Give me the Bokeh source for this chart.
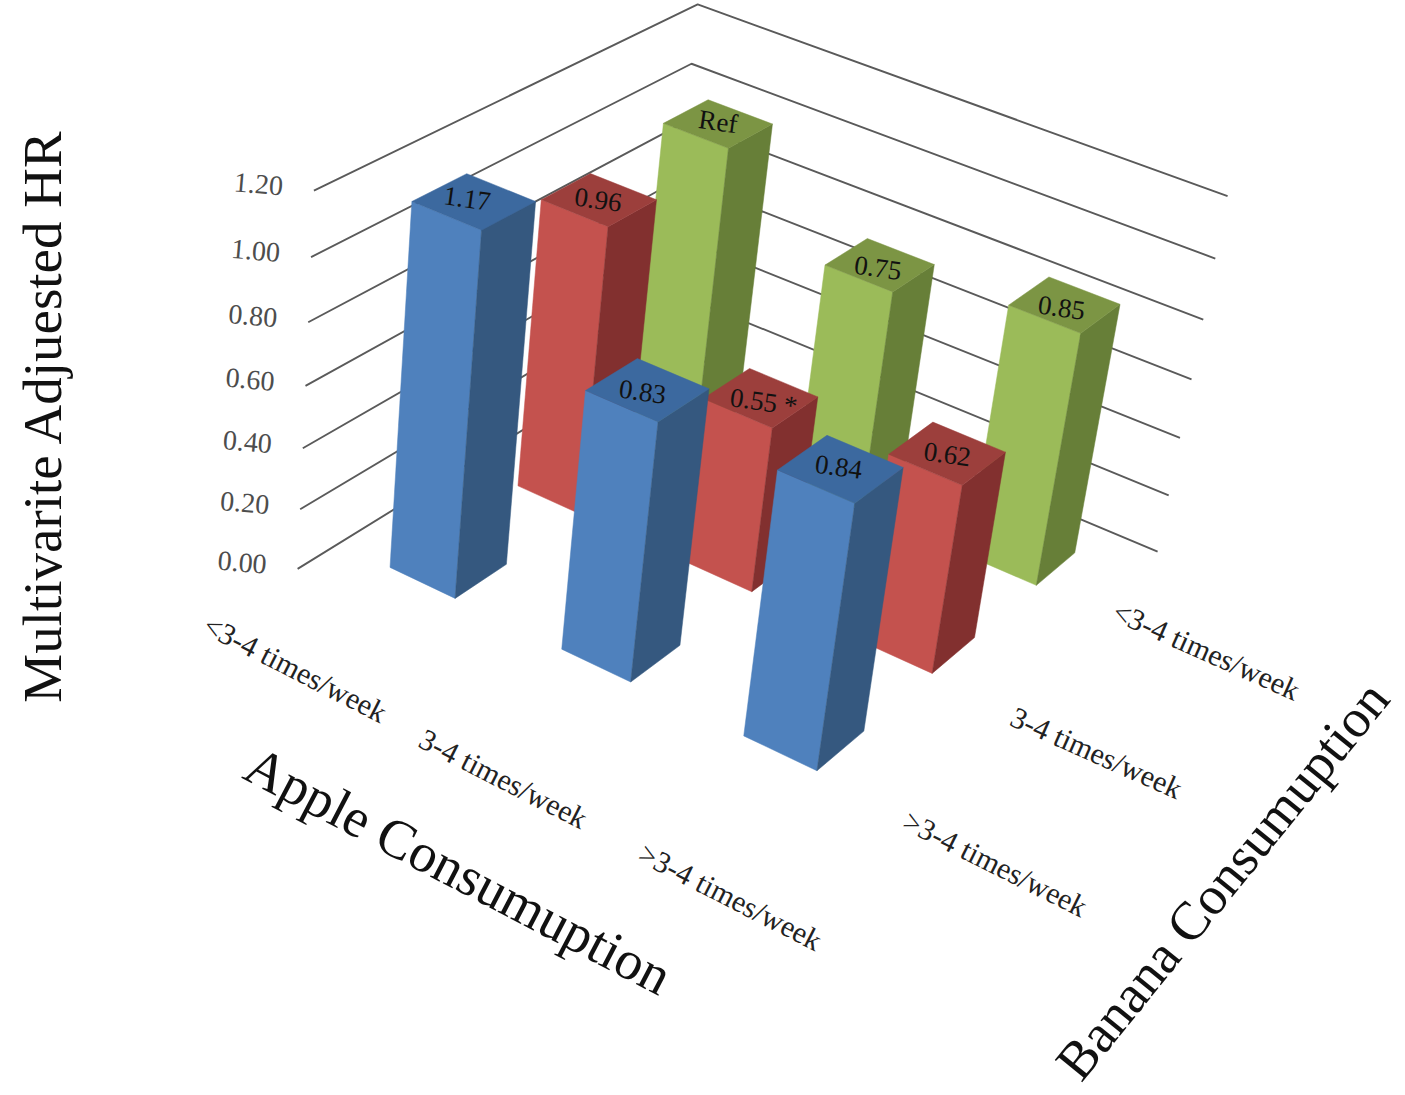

import numpy as np
from bokeh.plotting import figure
from bokeh.embed import file_html
from bokeh.resources import INLINE
from bokeh.core.properties import value

# ---- data ----
apple_categories = ["<3-4 times/week", "3-4 times/week", ">3-4 times/week"]
banana_categories = ["<3-4 times/week", "3-4 times/week", ">3-4 times/week"]
hr_banana_high = [1.17, 0.83, 0.84]   # blue, front row
hr_banana_mid = [0.96, 0.55, 0.62]    # red, middle row
hr_banana_low = [1.00, 0.75, 0.85]    # green, back row ("Ref" = 1.00)
z_ticks = [0.0, 0.2, 0.4, 0.6, 0.8, 1.0, 1.2]

# ---- view: a perspective camera, from chart space (u, v, z) to page pixels ----
CAM = [156.7828, 154.4642, -3.031596, 297.1038,
       63.82145, -57.88537, -325.3628, 568.3695,
       -0.02850562, 0.04974844, -0.05302681]
GAP_U, GAP_V = 0.3071, 0.3026

def project(points):
    w = np.asarray(points, float)
    d = CAM[8]*w[:, 0] + CAM[9]*w[:, 1] + CAM[10]*w[:, 2] + 1
    x = (CAM[0]*w[:, 0] + CAM[1]*w[:, 1] + CAM[2]*w[:, 2] + CAM[3]) / d
    y = (CAM[4]*w[:, 0] + CAM[5]*w[:, 1] + CAM[6]*w[:, 2] + CAM[7]) / d
    return x, y

p = figure(width=1405, height=1095, x_range=(0, 1405), y_range=(1095, 0),
           output_backend="svg", toolbar_location=None)
p.axis.visible = False
p.grid.visible = False
p.outline_line_color = None
p.min_border = 0
p.background_fill_color = "white"

serif = value("Liberation Serif")

# walls' gridlines
for z in z_ticks:
    x, y = project([(0, 0, z), (0, 3, z), (3, 3, z)])
    p.line(x, y, line_color="#5a5a5a", line_width=1.9)

x, y = project([(0, 0, z) for z in z_ticks])
p.text(x, y, text=[f"{z:.2f}" for z in z_ticks], text_font=serif, text_font_size="28px",
       text_color="#4d4d4d", text_align="right", text_baseline="middle",
       x_offset=-31, y_offset=-4, angle=-5, angle_units="deg")

# bars, painted back to front
series = [
    (hr_banana_high, 0, ("#4F81BD", "#35587F", "#3C699F"), [(-7, -3), (-5, 2), (-2, -2)]),
    (hr_banana_mid, 1, ("#C4524E", "#82302F", "#9C3F3C"), [(-1, 0), (3, 4), (0, 1)]),
    (hr_banana_low, 2, ("#9BBB59", "#677F38", "#7C9544"), [(0, -2), (-2, 3), (-3, 3)]),
]
order = sorted(((i - j, i, j, vals, cols, nudge) for vals, j, cols, nudge in series for i in range(3)),
               key=lambda t: t[0])
for _, i, j, vals, cols, nudge in order:
    h = vals[i]
    u0, u1, v0, v1 = i + GAP_U, i + 1 - GAP_U, j + GAP_V, j + 1 - GAP_V
    faces = [
        [(u0, v0, 0), (u1, v0, 0), (u1, v0, h), (u0, v0, h)],
        [(u1, v0, 0), (u1, v1, 0), (u1, v1, h), (u1, v0, h)],
        [(u0, v0, h), (u1, v0, h), (u1, v1, h), (u0, v1, h)],
    ]
    for face, c in zip(faces, cols):
        fx, fy = project(face)
        p.patch(fx, fy, fill_color=c, line_color=c, line_width=0.5)
    label = "Ref" if (i, j) == (0, 2) else ("0.55 *" if (i, j) == (1, 1) else f"{h:.2f}")
    cx, cy = project([(i + .5, j + .5, h)])
    p.text(cx, cy, text=[label], text_font=serif, text_font_size="27px", text_color="#111111",
           text_align="center", text_baseline="middle", angle=-8, angle_units="deg",
           x_offset=nudge[i][0], y_offset=nudge[i][1])

# category labels
apple_x, apple_y = [295, 503, 730], [668, 778, 896]
p.text(apple_x, apple_y, text=apple_categories, text_font=serif, text_font_size="30px",
       text_color="#222222", text_align="center", text_baseline="middle", angle=-27, angle_units="deg")
banana_x, banana_y, banana_a = [1206, 1096, 995], [650, 752, 863], [-24, -24, -26.5]
for lx, ly, la, txt in zip(banana_x, banana_y, banana_a, banana_categories):
    p.text([lx], [ly], text=[txt], text_font=serif, text_font_size="30px", text_color="#222222",
           text_align="center", text_baseline="middle", angle=la, angle_units="deg")

# axis titles
for txt, tx, ty, ang, fs in [("Multivarite Adjuested HR", 42, 415, 90, "55px"),
                             ("Apple Consumuption", 458, 870, -27.6, "55px"),
                             ("Banana Consumuption", 1222, 880, 51, "54px")]:
    p.text([tx], [ty], text=[txt], text_font=serif, text_font_size=fs, text_color="#111111",
           text_align="center", text_baseline="middle", angle=ang, angle_units="deg")

open("out.html", "w").write(file_html(p, INLINE))
